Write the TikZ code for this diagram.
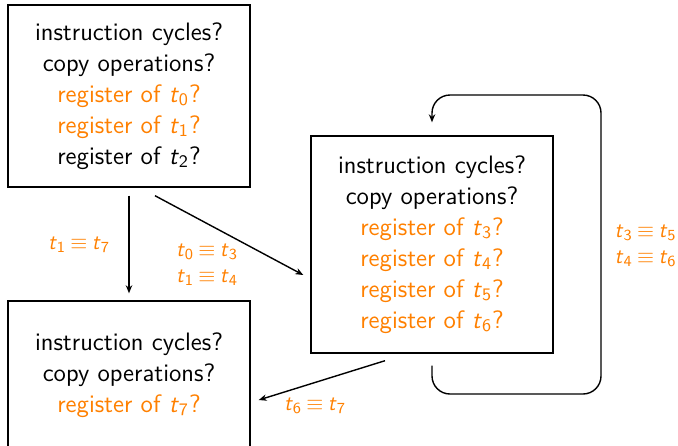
\documentclass[tikz,border=0pt]{standalone}
\usepackage{fontspec}
\usetikzlibrary{arrows.meta}
\definecolor{accent}{RGB}{255,128,0}
\newcommand\tvar[1]{\textit{t}\textsubscript{#1}}
\newcommand\eqv{\hspace{2.2pt}$\equiv$\hspace{2.2pt}}
\begin{document}
\begin{tikzpicture}[x=0.5pt,y=-0.5pt,
  every node/.style={font=\sffamily\fontsize{12.6}{15.5}\selectfont},
  qbox/.style={draw,line width=0.7pt,align=center,minimum width=121pt,inner sep=0pt},
  lab/.style={text=accent,align=center,font=\sffamily\fontsize{11}{13}\selectfont},
  arr/.style={line width=0.7pt,-{Stealth[length=4pt,width=3.2pt]}}]
\useasboundingbox (0,0) rectangle (678,445);
\clip (0,0) rectangle (678,445);
\node[qbox,minimum height=91pt] (A) at (129,96)
  {instruction cycles?\\copy operations?\\\textcolor{accent}{register of \tvar{0}?}\\\textcolor{accent}{register of \tvar{1}?}\\register of \tvar{2}?};
\node[qbox,minimum height=108.5pt] (C) at (432,244.5)
  {instruction cycles?\\copy operations?\\\textcolor{accent}{register of \tvar{3}?}\\\textcolor{accent}{register of \tvar{4}?}\\\textcolor{accent}{register of \tvar{5}?}\\\textcolor{accent}{register of \tvar{6}?}};
\node[qbox,minimum height=74pt] (B) at (129,375)
  {instruction cycles?\\copy operations?\\\textcolor{accent}{register of \tvar{7}?}};
\draw[arr] ([yshift=-4pt]A.south) -- ([yshift=3.5pt]B.north);
\draw[arr] ([xshift=13pt,yshift=-4pt]A.south) -- ([xshift=-3.5pt,yshift=-15.25pt]C.west);
\draw[arr] ([xshift=-23.5pt,yshift=-3.5pt]C.south) -- ([xshift=4pt,yshift=-12.5pt]B.east);
\coordinate (lb) at (601,394);
\coordinate (lt) at (432,95);
\draw[arr,rounded corners=9pt] ([yshift=-6pt]C.south) |- (lb) |- (lt) -- ([yshift=6.5pt]C.north);
\node[lab] (l1) at (79,245) {\tvar{1}\eqv\tvar{7}};
\node[lab] (l2) at (207,264.5) {\tvar{0}\eqv\tvar{3}\\\tvar{1}\eqv\tvar{4}};
\node[lab] (l3) at (315,406) {\tvar{6}\eqv\tvar{7}};
\node[lab,anchor=east,inner sep=0pt] (l4) at (677,246) {\tvar{3}\eqv\tvar{5}\\\tvar{4}\eqv\tvar{6}};
\end{tikzpicture}
\end{document}
